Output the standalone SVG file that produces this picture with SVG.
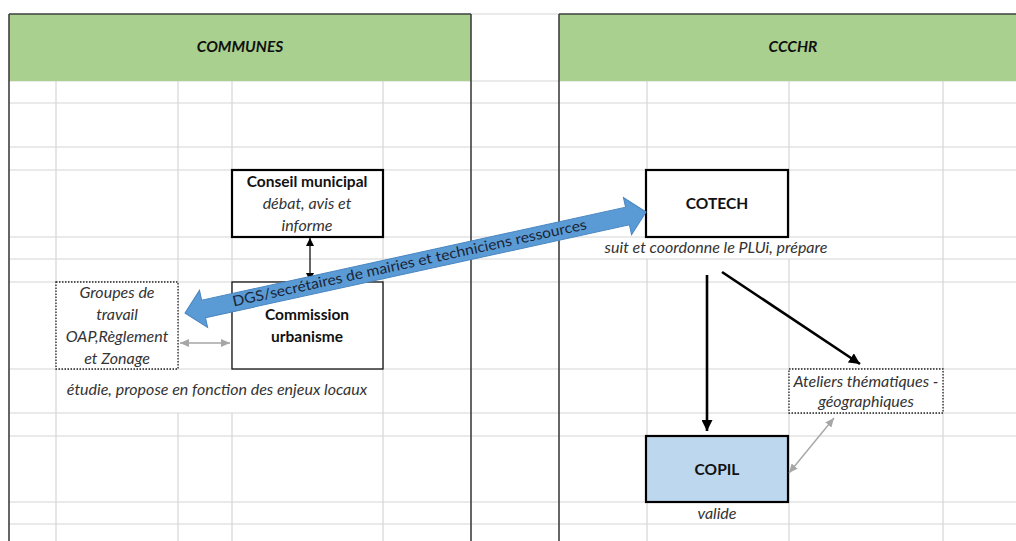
<svg xmlns="http://www.w3.org/2000/svg" width="1016" height="541" viewBox="0 0 1016 541">
<style>
.grid{stroke:#D6D6D6;stroke-width:1.2;fill:none}
.border{stroke:#404040;stroke-width:1.6;fill:none}
.hdr{fill:#A9D08E}
.ht{font-family:Lato,"Liberation Sans",sans-serif;font-size:15.5px;font-weight:bold;font-style:italic;fill:#111;text-anchor:middle}
.b{font-family:Lato,"Liberation Sans",sans-serif;font-size:15.5px;font-weight:bold;fill:#111;text-anchor:middle}
.i{font-family:Lato,"Liberation Sans",sans-serif;font-size:16px;font-style:italic;fill:#333;text-anchor:middle}
.box{fill:#fff;stroke:#000;stroke-width:2.2}
.thin{fill:#fff;stroke:#111;stroke-width:1.3}
.dot{fill:#fff;stroke:#222;stroke-width:1.3;stroke-dasharray:1.5 1.5}
.blk{stroke:#000;stroke-width:1.2;fill:none}
.thick{stroke:#000;stroke-width:2.6;fill:none}
.gray{stroke:#A6A6A6;stroke-width:1.4;fill:none}
</style>
<defs>
<marker id="mSmall" viewBox="0 0 8 8" refX="8" refY="4" markerWidth="8" markerHeight="8" markerUnits="userSpaceOnUse" orient="auto-start-reverse"><path d="M0,0 L8,4 L0,8 z" fill="#000"/></marker>
<marker id="mGray" viewBox="0 0 9 8" refX="9" refY="4" markerWidth="9" markerHeight="8" markerUnits="userSpaceOnUse" orient="auto-start-reverse"><path d="M0,0 L9,4 L0,8 z" fill="#A6A6A6"/></marker>
<marker id="mThick" viewBox="0 0 11 11" refX="11" refY="5.5" markerWidth="11" markerHeight="11" markerUnits="userSpaceOnUse" orient="auto"><path d="M0,0 L11,5.5 L0,11 z" fill="#000"/></marker>
</defs>
<rect x="0" y="0" width="1016" height="541" fill="#fff"/>
<g id="grid">
<path class="grid" d="M471,14 H559 M9,81 H1016 M9,103 H1016 M9,147 H1016 M9,170 H1016 M9,237 H1016 M9,259 H1016 M9,282 H1016 M9,369 H1016 M9,413 H1016 M9,436 H1016 M9,502 H1016 M9,524 H1016"/>
<path class="grid" d="M56,81 V541 M178,81 V369 M178,413 V541 M232,81 V369 M232,413 V541 M383,81 V541"/>
<path class="grid" d="M647,81 V237 M647,259 V541 M789,81 V237 M789,259 V541 M943,81 V541"/>
</g>
<g id="headers">
<rect class="hdr" x="9" y="14" width="462" height="67"/>
<rect class="hdr" x="559" y="14" width="457" height="67"/>
<text class="ht" x="240" y="52">COMMUNES</text>
<text class="ht" x="793" y="52">CCCHR</text>
</g>
<g id="borders">
<path class="border" d="M9,14 H471 M559,14 H1016 M9,14 V541 M471,14 V541 M559,14 V541"/>
</g>
<g id="conseil">
<rect class="box" x="232" y="170" width="151" height="67"/>
<text class="b" x="307" y="187">Conseil municipal</text>
<text class="i" x="307" y="209">débat, avis et</text>
<text class="i" x="307" y="231">informe</text>
</g>
<g id="commission">
<rect class="thin" x="232" y="282" width="151" height="87"/>
<text class="b" x="307" y="320">Commission</text>
<text class="b" x="307" y="342">urbanisme</text>
</g>
<g id="groupes">
<rect class="dot" x="56" y="282" width="122" height="87"/>
<text class="i" x="117" y="298">Groupes de</text>
<text class="i" x="117" y="320">travail</text>
<text class="i" x="117" y="342">OAP,Règlement</text>
<text class="i" x="117" y="364">et Zonage</text>
</g>
<g id="etudie">
<text class="i" x="217" y="395">étudie, propose en fonction des enjeux locaux</text>
</g>
<g id="cotech">
<rect class="box" x="646" y="170" width="142" height="67"/>
<text class="b" x="717" y="209">COTECH</text>
<text class="i" x="716" y="253">suit et coordonne le PLUi, prépare</text>
</g>
<g id="ateliers">
<rect class="dot" x="789" y="369" width="154" height="44"/>
<text class="i" x="866" y="387">Ateliers thématiques -</text>
<text class="i" x="866" y="407">géographiques</text>
</g>
<g id="copil">
<rect class="box" x="646" y="436" width="142" height="66" style="fill:#BDD7EE"/>
<text class="b" x="717" y="475">COPIL</text>
<text class="i" x="717" y="519">valide</text>
</g>
<g id="connectors">
<line class="blk" x1="310" y1="238" x2="310" y2="281" marker-start="url(#mSmall)" marker-end="url(#mSmall)"/>
<line class="gray" x1="180" y1="343" x2="230" y2="343" marker-start="url(#mGray)" marker-end="url(#mGray)"/>
<line class="thick" x1="707" y1="275" x2="707" y2="431" marker-end="url(#mThick)"/>
<line class="thick" x1="722" y1="272" x2="860" y2="364" marker-end="url(#mThick)"/>
<line class="gray" x1="834" y1="418" x2="789" y2="473" marker-start="url(#mGray)" marker-end="url(#mGray)"/>
<g id="blue-arrow" transform="translate(185,313) rotate(-12.36)">
<path d="M0,0 L19,-19 L19,-9 L453,-9 L453,-19 L472,0 L453,19 L453,9 L19,9 L19,19 z" fill="#5B9BD5" stroke="#4A86C0" stroke-width="1"/>
<text x="230" y="4" textLength="362" lengthAdjust="spacingAndGlyphs" style="font-family:Lato,'Liberation Sans',sans-serif;font-size:14.5px;fill:#1A2536;text-anchor:middle">DGS/secrétaires de mairies et techniciens ressources</text>
</g>
</g>
</svg>
